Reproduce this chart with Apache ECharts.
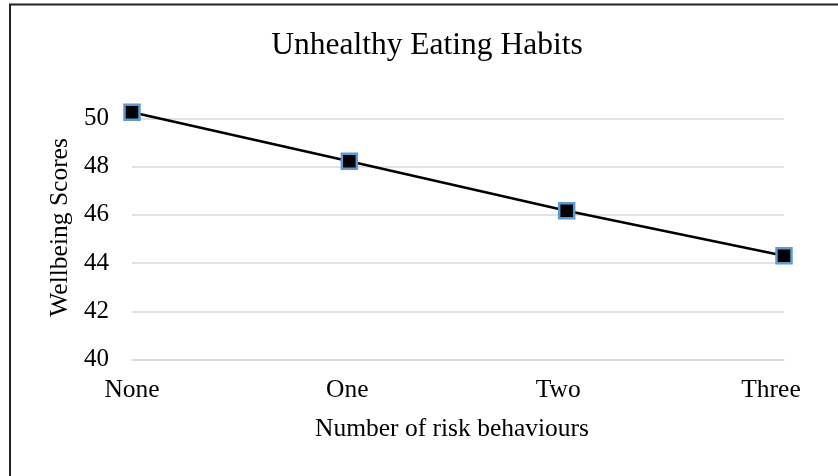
<!DOCTYPE html>
<html>
<head>
<meta charset="utf-8">
<script src="https://cdn.jsdelivr.net/npm/echarts@6/dist/echarts.min.js"></script>
<style>
  html, body { margin: 0; padding: 0; background: #ffffff; }
  #chart { width: 838px; height: 476px; }
</style>
</head>
<body>
<div id="chart"></div>
<script>
// Mean wellbeing score by number of unhealthy eating risk behaviours
const categories = ['None', 'One', 'Two', 'Three'];
const wellbeingScores = [50.25, 48.22, 46.17, 44.30];
const yTicks = { min: 40, max: 50, step: 2 };

const serif = '"Liberation Serif", "Times New Roman", serif';
const tickFont = { fontFamily: serif, fontSize: 25.5, color: '#000000' };

// Category labels drift slightly left of their points toward the right end
const labelRich = {
  c0: Object.assign({ padding: [0, 0, 0, 0] }, tickFont),
  c1: Object.assign({ padding: [0, 4, 0, 0] }, tickFont),
  c2: Object.assign({ padding: [0, 17, 0, 0] }, tickFont),
  c3: Object.assign({ padding: [0, 26, 0, 0] }, tickFont)
};

const chart = echarts.init(document.getElementById('chart'), null, { renderer: 'canvas' });

chart.setOption({
  backgroundColor: '#ffffff',
  animation: false,
  title: {
    text: 'Unhealthy Eating Habits',
    left: 427,
    textAlign: 'center',
    top: 30,
    padding: 0,
    textStyle: { fontFamily: serif, fontSize: 31.5, fontWeight: 'normal', color: '#000000' }
  },
  graphic: [{
    type: 'polyline',
    shape: { points: [[10, 480], [10, 4.5], [840, 4.5]] },
    style: { stroke: '#222222', lineWidth: 2, fill: null },
    silent: true
  }],
  grid: { left: 132, right: 54, top: 118.3, bottom: 116.5 },
  xAxis: {
    type: 'category',
    data: categories,
    boundaryGap: false,
    name: 'Number of risk behaviours',
    nameLocation: 'middle',
    nameGap: 56.5,
    nameTextStyle: { fontFamily: serif, fontSize: 25.5, color: '#000000', padding: [0, 12, 0, 0] },
    axisLine: { show: true, lineStyle: { color: '#d9d9d9', width: 1.5 } },
    axisTick: { show: false },
    axisLabel: {
      fontFamily: serif, fontSize: 25.5, color: '#000000', margin: 18,
      formatter: function (value, index) { return '{c' + index + '|' + value + '}'; },
      rich: labelRich
    },
    splitLine: { show: false }
  },
  yAxis: {
    type: 'value',
    min: yTicks.min,
    max: yTicks.max,
    interval: yTicks.step,
    name: 'Wellbeing Scores',
    nameLocation: 'middle',
    nameGap: 58,
    nameTextStyle: { fontFamily: serif, fontSize: 25.5, color: '#000000', padding: [0, 0, 0, 23] },
    axisLine: { show: false },
    axisTick: { show: false },
    axisLabel: { fontFamily: serif, fontSize: 25, color: '#000000', margin: 23 },
    splitLine: { show: true, lineStyle: { color: '#d9d9d9', width: 1.5 } }
  },
  series: [{
    type: 'line',
    data: wellbeingScores,
    clip: false,
    symbol: 'rect',
    symbolSize: 15,
    lineStyle: { color: '#000000', width: 2.5 },
    itemStyle: { color: '#000000', borderColor: '#5b9bd5', borderWidth: 2.5 },
    emphasis: { disabled: true }
  }]
});
</script>
</body>
</html>
